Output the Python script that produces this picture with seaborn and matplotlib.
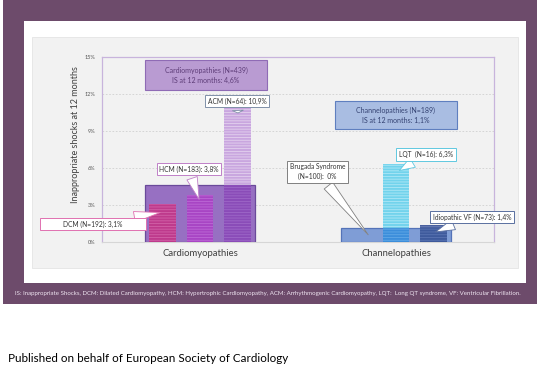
import numpy as np
import pandas as pd
import matplotlib
matplotlib.use("Agg")
import matplotlib.pyplot as plt
from matplotlib.patches import Rectangle
import seaborn as sns

# ---------------------------------------------------------------
# DATA
# ---------------------------------------------------------------
groups = ["Cardiomyopathies", "Channelopathies"]
group_n = [439, 189]
group_is = [4.6, 1.1]

subtypes = ["DCM", "HCM", "ACM", "Brugada Syndrome", "LQT", "Idiopathic VF"]
subtype_group = ["Cardiomyopathies"] * 3 + ["Channelopathies"] * 3
subtype_slot = ["s0", "s1", "s2", "s0", "s1", "s2"]
subtype_n = [192, 183, 64, 100, 16, 73]
subtype_is = [3.1, 3.8, 10.9, 0.0, 6.3, 1.4]

callout_labels = [
    "            DCM (N=192): 3,1%            ",
    "HCM (N=183): 3,8%",
    "ACM (N=64): 10,9%",
    "Brugada Syndrome\n(N=100):  0%",
    "LQT  (N=16): 6,3%",
    "Idiopathic VF (N=73): 1,4%",
]

# ---------------------------------------------------------------
# STYLE
# ---------------------------------------------------------------
sns.set_theme(style="white")
plt.rcParams["font.family"] = ["Lato", "DejaVu Sans"]
plt.rcParams["hatch.linewidth"] = 0.6

box_face = ["#9770C2", "#7F9DD6"]
box_edge = ["#6A4A9A", "#5473B8"]
# colour outside / inside the group box, and stripe colours
sub_out = ["#C0408F", "#A848C8", "#C9A6DF", "#7F9DD6", "#72D3EC", "#4A609E"]
sub_out_hatch = ["#D66AAE", "#BE72DA", "#E4D2EE", "#7F9DD6", "#B0E8F6", "#6A7EB6"]
sub_in = ["#BE3A8C", "#A845C4", "#8A4CB8", "#7F9DD6", "#3C8EDB", "#3E5A9C"]
sub_in_hatch = ["#D262A8", "#BD6AD6", "#9E68C8", "#7F9DD6", "#62A8E6", "#5A74B2"]
callout_edge = ["#E070B0", "#C080C8", "#8090A8", "#808080", "#60C8E0", "#5A6FA0"]

df_sub = pd.DataFrame({
    "group": subtype_group,
    "slot": subtype_slot,
    "is_pct": subtype_is,
})

# ---------------------------------------------------------------
# FIGURE + FRAMES
# ---------------------------------------------------------------
fig = plt.figure(figsize=(5.43, 3.66), dpi=100)
fig.patch.set_facecolor("white")
W, H = 543.0, 366.0


def frame(x0, y0, x1, y1, **kw):
    r = Rectangle((x0 / W, 1 - y1 / H), (x1 - x0) / W, (y1 - y0) / H,
                  transform=fig.transFigure, **kw)
    fig.patches.append(r)


frame(3, 0, 537, 304, facecolor="#6D4B6B", edgecolor="none", zorder=-5)
frame(24, 21, 526, 283, facecolor="white", edgecolor="none", zorder=-4)
frame(32, 37, 518, 268, facecolor="#F2F2F2", edgecolor="#E4E4E4", lw=0.6, zorder=-3)

ax = fig.add_axes([102 / W, 1 - 242 / H, 392 / W, 185 / H])
ax.set_facecolor("none")


def recolor_subbars(containers, faces, hatches, zorder, clip=None):
    for cont in containers:
        for bar in cont:
            xc = bar.get_x() + bar.get_width() / 2
            gi = int(round(xc))
            si = int(round((xc - gi) / 0.191)) + 1
            k = gi * 3 + si
            bar.set_facecolor(faces[k])
            bar.set_edgecolor(hatches[k])
            bar.set_hatch("------")
            bar.set_linewidth(0)
            bar.set_zorder(zorder)
            if subtype_is[k] == 0:
                bar.set_visible(False)
            if clip is not None:
                bar.set_clip_path(clip[gi])


# layer 1: sub-type bars (light part above the box)
n0 = len(ax.containers)
sns.barplot(data=df_sub, x="group", y="is_pct", hue="slot", order=groups,
            dodge=True, width=0.573, gap=0.28, legend=False, ax=ax)
recolor_subbars(ax.containers[n0:], sub_out, sub_out_hatch, 2)

# group boxes
n1 = len(ax.containers)
sns.barplot(x=groups, y=group_is, hue=groups, order=groups, palette=box_face,
            width=0.566, legend=False, ax=ax)
box_patches = []
for cont in ax.containers[n1:]:
    for bar in cont:
        gi = int(round(bar.get_x() + bar.get_width() / 2))
        bar.set_facecolor(box_face[gi])
        bar.set_edgecolor(box_edge[gi])
        bar.set_linewidth(0.9)
        bar.set_zorder(3)
        box_patches.append((gi, bar))
box_patches = [b for _, b in sorted(box_patches, key=lambda t: t[0])]

# layer 2: sub-type bars inside the box (darker), clipped to the box
n2 = len(ax.containers)
sns.barplot(data=df_sub, x="group", y="is_pct", hue="slot", order=groups,
            dodge=True, width=0.573, gap=0.28, legend=False, ax=ax)
recolor_subbars(ax.containers[n2:], sub_in, sub_in_hatch, 4, clip=box_patches)

# ---------------------------------------------------------------
# AXES
# ---------------------------------------------------------------
ax.set_xlim(-0.5, 1.5)
ax.set_ylim(0, 15)
ax.set_yticks(np.arange(0, 16, 3))
ax.set_yticklabels([f"{v}%" for v in range(0, 16, 3)], fontsize=4, color="#595959")
ax.set_xticks([0, 1])
ax.set_xticklabels(groups, fontsize=6.8, color="#404040")
ax.tick_params(axis="both", length=0)
ax.tick_params(axis="x", pad=5)
ax.tick_params(axis="y", pad=5)
ax.set_xlabel("")
ax.set_ylabel("")
ax.yaxis.grid(True, linestyle=(0, (2, 2)), color="#D0D0D0", lw=0.6)
ax.set_axisbelow(True)
for side in ["left", "top", "right"]:
    ax.spines[side].set_color("#C8B4DC")
    ax.spines[side].set_linewidth(0.9)
ax.spines["bottom"].set_color("#D6D6D6")
ax.spines["bottom"].set_linewidth(0.8)

fig.text(75 / W, 1 - 135 / H, "Inappropriate shocks at 12 months", rotation=90,
         ha="center", va="center", fontsize=6.5, color="#404040")

# summary boxes
summary_boxes = [(-0.281, 12.32, 0.623, 2.44), (0.689, 9.16, 0.622, 2.27)]
summary_face = ["#B99BD2", "#A9BDE2"]
summary_edge = ["#8F6BB5", "#5F7FBF"]
summary_text = ["#5E3D78", "#344272"]
for gi, (x0, y0, w, h) in enumerate(summary_boxes):
    ax.add_patch(Rectangle((x0, y0), w, h, facecolor=summary_face[gi],
                           edgecolor=summary_edge[gi], lw=0.8, zorder=5))
    ax.text(x0 + w / 2, y0 + h / 2,
            f"{groups[gi]} (N={group_n[gi]})\nIS at 12 months: {str(group_is[gi]).replace('.', ',')}%",
            ha="center", va="center", fontsize=5.0, color=summary_text[gi],
            linespacing=1.5, zorder=6)

# callouts
callout_text_xy = [(-0.546, 1.46), (-0.056, 5.92), (0.191, 11.43),
                   (0.599, 5.68), (1.153, 7.09), (1.388, 2.03)]
callout_tip_xy = [(-0.189, 2.43), (0.0, 3.24), (0.194, 10.46),
                  (0.867, 0.41), (1.005, 5.68), (1.189, 0.73)]
for k in range(len(subtypes)):
    ax.annotate(callout_labels[k], xy=callout_tip_xy[k], xytext=callout_text_xy[k],
                ha="center", va="center", fontsize=4.8, color="#333333",
                linespacing=1.45, zorder=7, annotation_clip=False,
                bbox=dict(boxstyle="square,pad=0.4", fc="white",
                          ec=callout_edge[k], lw=0.7),
                arrowprops=dict(arrowstyle="wedge,tail_width=1.3,shrink_factor=0.5",
                                fc="white", ec=callout_edge[k], lw=0.6,
                                mutation_scale=6))

# footer texts
fig.text(268 / W, 1 - 294 / H,
         "IS: Inappropriate Shocks, DCM: Dilated Cardiomyopathy, HCM: Hypertrophic Cardiomyopathy, "
         "ACM: Arrhythmogenic Cardiomyopathy, LQT:  Long QT syndrome, VF: Ventricular Fibrillation.",
         ha="center", va="center", fontsize=4.4, color="#EDE3F0")
fig.text(8 / W, 1 - 358 / H, "Published on behalf of European Society of Cardiology",
         ha="left", va="center", fontsize=8.4, color="black")

fig.savefig("out.png", dpi=100)
